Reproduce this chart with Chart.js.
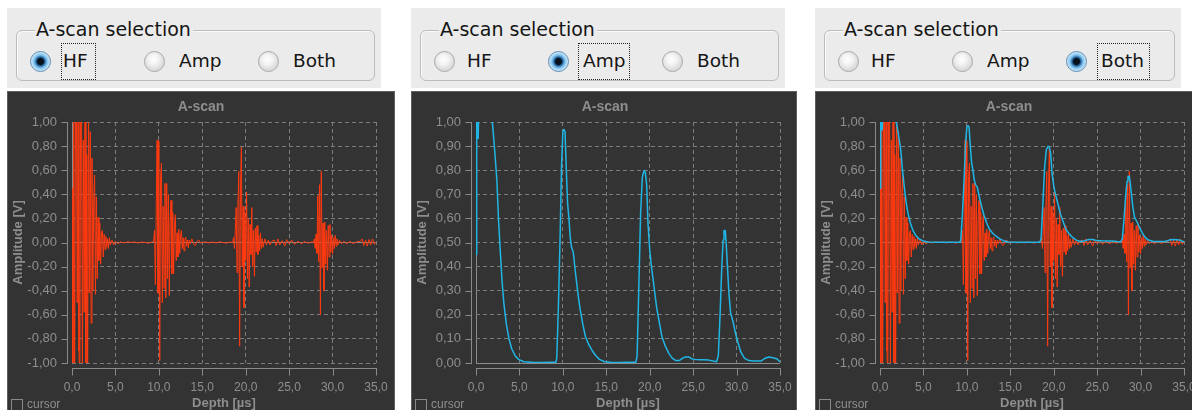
<!DOCTYPE html>
<html>
<head>
<meta charset="utf-8">
<script src="https://cdn.jsdelivr.net/npm/chart.js@4.4.1/dist/chart.umd.min.js"></script>
<style>
    html, body { margin: 0; padding: 0; background: #fff; width: 1192px; height: 410px; overflow: hidden; }
    body { position: relative; font-family: "DejaVu Sans", sans-serif; color: #151515; }
    .sel { position: absolute; top: 8px; width: 374px; height: 80px; background: #ebebeb; }
    .grp { position: absolute; left: 9px; top: 22px; width: 357px; height: 49px; border: 1px solid #bcbcbc; border-radius: 6px; box-shadow: inset 1px 1px 0 #fafafa; }
    .lgd { position: absolute; left: 28px; top: 10px; padding: 0 2px 0 1px; font-size: 19px; line-height: 22px; background: #ebebeb; white-space: nowrap; }
    .rb { position: absolute; top: 43px; width: 19px; height: 19px; border-radius: 50%; border: 1px solid #a8a8a8;
          background: radial-gradient(circle at 45% 40%, #ffffff 0, #f3f3f3 5px, #dcdcdc 10px); }
    .rb.on { border-color: #5f8bb0;
          background: radial-gradient(circle at 50% 50%, #07111c 0, #07111c 3px, #2a6ea8 4.5px, #7fc2ee 6.5px, #cfeafb 9.5px); }
    .lb { position: absolute; top: 42px; font-size: 18.5px; line-height: 22px; white-space: nowrap; }
    .focus { position: absolute; top: 35px; height: 35px; border: 1px dotted #222; }
    .scope { position: absolute; top: 91px; height: 320px; background: #333333; border: 1px solid #5e5e5e; box-sizing: border-box; overflow: hidden; }
    .scope canvas { position: absolute; left: -1px; top: -1px; }
    .cb { position: absolute; left: 3px; top: 307px; width: 10px; height: 10px; border: 1px solid #8a8a8a; }
    .cbl { position: absolute; left: 19px; top: 305px; font: 12px/14px "Liberation Sans", Arial, sans-serif; color: #8e8e8e; }
</style>
</head>
<body>

<div class="sel" style="left:7px">
    <div class="grp"></div>
    <div class="lgd">A-scan selection</div>
    <div class="rb on" style="left:23px"></div><div class="lb" style="left:56px">HF</div>
    <div class="focus" style="left:54px;width:33px"></div>
    <div class="rb" style="left:137px"></div><div class="lb" style="left:172px">Amp</div>
    <div class="rb" style="left:251px"></div><div class="lb" style="left:286px">Both</div>
</div>
<div class="sel" style="left:411px">
    <div class="grp"></div>
    <div class="lgd">A-scan selection</div>
    <div class="rb" style="left:23px"></div><div class="lb" style="left:56px">HF</div>
    <div class="rb on" style="left:137px"></div><div class="lb" style="left:172px">Amp</div>
    <div class="focus" style="left:167px;width:50px"></div>
    <div class="rb" style="left:251px"></div><div class="lb" style="left:286px">Both</div>
</div>
<div class="sel" style="left:815px;width:366px">
    <div class="grp" style="width:349px"></div>
    <div class="lgd">A-scan selection</div>
    <div class="rb" style="left:23px"></div><div class="lb" style="left:56px">HF</div>
    <div class="rb" style="left:137px"></div><div class="lb" style="left:172px">Amp</div>
    <div class="rb on" style="left:251px"></div><div class="lb" style="left:286px">Both</div>
    <div class="focus" style="left:282px;width:51px"></div>
</div>

<div class="scope" style="left:7px;width:388px">
    <canvas id="scope-hf" width="388" height="319"></canvas>
    <div class="cb"></div><div class="cbl">cursor</div>
</div>
<div class="scope" style="left:411px;width:386px">
    <canvas id="scope-amp" width="388" height="319"></canvas>
    <div class="cb"></div><div class="cbl">cursor</div>
</div>
<div class="scope" style="left:815px;width:380px">
    <canvas id="scope-both" width="388" height="319"></canvas>
    <div class="cb"></div><div class="cbl">cursor</div>
</div>

<script>
// Tick values
const depthTicks = [0, 5, 10, 15, 20, 25, 30, 35];
const hfVoltTicks = [-1, -0.8, -0.6, -0.4, -0.2, 0, 0.2, 0.4, 0.6, 0.8, 1];
const ampVoltTicks = [0, 0.1, 0.2, 0.3, 0.4, 0.5, 0.6, 0.7, 0.8, 0.9, 1];

// HF trace [depth µs, amplitude V]
const hfFront = [
    [0.0, 0.45], [0.1, -1.3], [0.2, 1.3], [0.3, -1.3], [0.4, 1.2], [0.5, 1.3], [0.6, -0.5], [0.7, 1.2],
    [0.8, -0.9], [0.9, -1.2], [1.0, 1.3], [1.1, 1.2], [1.2, -1.2], [1.3, 0.85], [1.4, -0.58], [1.5, 1.2],
    [1.6, -1.2], [1.7, 0.73], [1.8, -1.2], [1.9, 1.1], [2.0, -0.42], [2.1, 0.92], [2.2, -0.67], [2.3, 0.7],
    [2.4, -0.4], [2.5, 0.35], [2.6, 0.56], [2.7, -0.43], [2.8, 0.38], [2.9, -0.3], [3.0, 0.21], [3.1, -0.15],
    [3.2, 0.16], [3.3, -0.18], [3.4, 0.08], [3.5, 0.1], [3.6, -0.12], [3.7, 0.07], [3.8, -0.06], [3.9, 0.05],
    [4.0, -0.04], [4.1, 0.03], [4.2, -0.05], [4.3, 0.04], [4.4, -0.02], [4.6, 0.02], [4.8, -0.02], [5.0, 0.01],
    [5.3, -0.01],
];
const hfQuiet1 = [
    [5.6, 0.005], [6.0, -0.004], [6.4, 0.006], [6.8, 0], [7.2, 0.005], [7.6, -0.004], [8.0, 0.004],
    [8.4, 0], [8.8, -0.005], [9.2, 0.004],
];
const hfEcho1 = [
    [9.4, 0.01], [9.5, 0.1], [9.6, -0.35], [9.7, 0.3], [9.8, 0.85], [9.9, -0.42], [10.0, 0.84], [10.1, -0.98],
    [10.2, 0.55], [10.3, 0.66], [10.4, -0.5], [10.5, 0.3], [10.6, -0.38], [10.7, 0.49], [10.8, -0.46], [10.9, 0.49],
    [11.0, -0.3], [11.1, 0.4], [11.2, -0.44], [11.3, 0.2], [11.4, 0.35], [11.5, -0.26], [11.6, 0.25], [11.7, -0.26],
    [11.8, 0.15], [11.9, 0.23], [12.0, -0.15], [12.1, 0.08], [12.2, -0.12], [12.3, 0.11], [12.4, -0.09], [12.5, 0.06],
    [12.6, 0.1], [12.7, -0.05], [12.8, 0.04], [12.9, -0.07], [13.0, 0.03], [13.1, 0.045], [13.2, -0.03], [13.3, 0.02],
    [13.4, -0.045], [13.5, 0.02], [13.6, -0.01], [13.8, 0.03], [14.0, -0.015], [14.2, -0.025], [14.4, 0.01],
    [14.6, 0.02], [14.8, -0.005], [15.0, 0],
];
const hfQuiet2 = [
    [15.4, 0.005], [15.8, -0.004], [16.2, 0.004], [16.6, -0.004], [17.0, 0.005], [17.4, 0], [17.8, -0.005], [18.2, 0.004],
];
const hfEcho2 = [
    [18.5, 0], [18.6, 0.04], [18.7, -0.05], [18.8, 0.1], [18.9, 0.29], [19.0, -0.25], [19.1, 0.3], [19.2, 0.59],
    [19.3, -0.86], [19.4, 0.45], [19.5, 0.79], [19.6, -0.2], [19.7, 0.3], [19.8, -0.54], [19.9, 0.25], [20.0, -0.15],
    [20.1, 0.42], [20.2, -0.3], [20.3, 0.2], [20.4, -0.37], [20.5, 0.15], [20.6, -0.1], [20.7, 0.29], [20.8, -0.2],
    [20.9, 0.1], [21.0, -0.28], [21.1, 0.12], [21.2, -0.08], [21.3, 0.14], [21.4, -0.1], [21.5, 0.06], [21.6, -0.07],
    [21.7, 0.08], [21.8, -0.05], [21.9, 0.03], [22.0, -0.04], [22.2, 0.03], [22.4, -0.02], [22.6, 0.02], [22.8, -0.02],
    [23.0, 0.01],
];
const hfQuiet3 = [
    [23.3, 0.02], [23.5, -0.025], [23.7, 0.03], [23.9, -0.02], [24.2, 0.015], [24.5, -0.03], [24.7, 0.025],
    [25.0, -0.01], [25.3, 0.02], [25.6, -0.015], [26.0, 0.01], [26.4, -0.01], [26.8, 0.008], [27.2, -0.006], [27.6, 0.005],
];
const hfEcho3 = [
    [27.8, 0], [27.9, 0.03], [28.0, -0.05], [28.1, 0.07], [28.2, -0.09], [28.3, 0.39], [28.4, -0.16], [28.5, 0.48],
    [28.6, -0.6], [28.7, 0.59], [28.8, -0.21], [28.9, 0.16], [29.0, -0.4], [29.1, 0.17], [29.2, -0.18], [29.3, 0.1],
    [29.4, -0.23], [29.5, 0.14], [29.6, -0.12], [29.7, 0.15], [29.8, -0.08], [29.9, 0.06], [30.0, -0.095], [30.1, 0.04],
    [30.2, -0.05], [30.3, 0.06], [30.4, -0.03], [30.5, 0.03], [30.6, -0.02], [30.8, 0.02], [31.0, -0.01],
];
const hfQuiet4 = [
    [31.3, 0.01], [31.6, -0.01], [32.0, 0.008], [32.4, -0.008], [32.8, 0.006], [33.2, 0.01], [33.4, 0.03],
    [33.6, -0.025], [33.8, 0.02], [34.0, -0.03], [34.2, 0.025], [34.4, -0.02], [34.6, 0.03], [34.8, -0.015], [35.0, 0.005],
];

// Amplitude (envelope) trace [depth µs, amplitude V]
const ampTrace = [
    [0.0, 0.45], [0.08, 1.02], [0.25, 0.93], [0.4, 1.2], [1.0, 1.5], [1.6, 1.2], [1.88, 1.0], [2.0, 0.95],
    [2.2, 0.86], [2.4, 0.76], [2.6, 0.59], [2.8, 0.46], [3.0, 0.34], [3.2, 0.25], [3.5, 0.16], [3.8, 0.1],
    [4.1, 0.06], [4.5, 0.03], [4.9, 0.015], [5.5, 0.005], [6.5, 0.003], [7.5, 0.002], [8.5, 0.003], [9.2, 0.003],
    [9.3, 0.02], [9.5, 0.25], [9.7, 0.55], [9.85, 0.82], [10.0, 0.96], [10.1, 0.97], [10.25, 0.96], [10.4, 0.8],
    [10.55, 0.66], [10.7, 0.6], [10.85, 0.52], [11.0, 0.48], [11.2, 0.46], [11.4, 0.39], [11.6, 0.33], [11.8, 0.27],
    [12.0, 0.22], [12.3, 0.16], [12.6, 0.11], [13.0, 0.075], [13.4, 0.05], [13.8, 0.03], [14.2, 0.015], [14.8, 0.005],
    [15.5, 0.003], [16.5, 0.002], [17.5, 0.003], [18.4, 0.003], [18.55, 0.03], [18.75, 0.32], [18.95, 0.62],
    [19.15, 0.77], [19.35, 0.8], [19.5, 0.79], [19.65, 0.74], [19.8, 0.58], [20.0, 0.47], [20.2, 0.4], [20.45, 0.33],
    [20.8, 0.23], [21.1, 0.17], [21.4, 0.11], [21.8, 0.07], [22.2, 0.04], [22.6, 0.02], [23.0, 0.01], [23.4, 0.01],
    [23.8, 0.02], [24.1, 0.025], [24.5, 0.025], [24.8, 0.018], [25.2, 0.015], [25.6, 0.014], [26.2, 0.013],
    [26.8, 0.012], [27.3, 0.008], [27.7, 0.005], [27.9, 0.03], [28.1, 0.2], [28.3, 0.4], [28.45, 0.51], [28.55, 0.55],
    [28.7, 0.55], [28.8, 0.5], [28.95, 0.4], [29.1, 0.3], [29.3, 0.21], [29.6, 0.17], [29.9, 0.12], [30.2, 0.08],
    [30.5, 0.045], [30.9, 0.02], [31.4, 0.01], [32.0, 0.008], [32.8, 0.008], [33.3, 0.02], [33.7, 0.025],
    [34.2, 0.022], [34.6, 0.018], [35.0, 0.005],
];

const hfTrace = [].concat(hfFront, hfQuiet1, hfEcho1, hfQuiet2, hfEcho2, hfQuiet3, hfEcho3, hfQuiet4);

const FONT = "'Liberation Sans', Arial, sans-serif";
const TEXT_GRAY = '#8e8e8e';
const AXIS_GRAY = '#8a8a8a';
const HF_RED = '#ff3a10';
const AMP_CYAN = '#1fb6e6';

// Axis lines sit a few pixels outside the plot area, with their own tick marks
const axisLines = {
    id: 'axisLines',
    afterDraw(chart) {
        const { ctx, chartArea: a, scales: { x, y } } = chart;
        ctx.save();
        ctx.strokeStyle = AXIS_GRAY;
        ctx.lineWidth = 1;
        ctx.beginPath();
        const ax = Math.round(a.left) - 5 + 0.5;
        ctx.moveTo(ax, a.top);
        ctx.lineTo(ax, a.bottom + 1);
        y.ticks.forEach(t => {
            const py = Math.round(y.getPixelForValue(t.value)) + 0.5;
            ctx.moveTo(ax - 6, py);
            ctx.lineTo(ax, py);
        });
        const ay = Math.round(a.bottom) + 5 + 0.5;
        ctx.moveTo(a.left, ay);
        ctx.lineTo(a.right + 1, ay);
        x.ticks.forEach(t => {
            const px = Math.round(x.getPixelForValue(t.value)) + 0.5;
            ctx.moveTo(px, ay);
            ctx.lineTo(px, ay + 7);
        });
        ctx.stroke();
        ctx.restore();
    },
};

const isZero = c => c.tick && Math.abs(c.tick.value) < 1e-9;

function trace(data, color, width, order) {
    return {
        data,
        borderColor: color,
        borderWidth: width,
        borderJoinStyle: 'bevel',
        pointRadius: 0,
        tension: 0,
        fill: false,
        order,
    };
}

function makeScope(canvasId, datasets, yTicks, yMin) {
    const ctx = document.getElementById(canvasId).getContext('2d');
    return new Chart(ctx, {
        type: 'line',
        data: { datasets },
        options: {
            responsive: false,
            animation: false,
            events: [],
            layout: { padding: 0 },
            plugins: {
                legend: { display: false },
                tooltip: { enabled: false },
                title: {
                    display: true,
                    text: 'A-scan',
                    color: TEXT_GRAY,
                    font: { family: FONT, size: 14, weight: 'bold', lineHeight: 1 },
                    padding: { top: 9, bottom: 8 },
                },
            },
            scales: {
                x: {
                    type: 'linear',
                    min: 0,
                    max: 35,
                    afterBuildTicks: s => { s.ticks = depthTicks.map(v => ({ value: v })); },
                    afterFit: s => { s.height = 47; s.paddingLeft = 0; s.paddingRight = 0; },
                    grid: { color: c => (isZero(c) ? '#8c8c8c' : '#7c7c7c'), drawTicks: false },
                    border: { display: false, dash: c => (isZero(c) ? [] : [4, 3]) },
                    ticks: {
                        color: TEXT_GRAY,
                        font: { family: FONT, size: 12 },
                        padding: 17,
                        maxRotation: 0,
                        autoSkip: false,
                        callback: v => v.toFixed(1).replace('.', ','),
                    },
                    title: {
                        display: true,
                        text: 'Depth [µs]',
                        color: TEXT_GRAY,
                        font: { family: FONT, size: 13, weight: 'bold', lineHeight: 1 },
                        padding: { top: 0, bottom: 0 },
                    },
                },
                y: {
                    type: 'linear',
                    min: yMin,
                    max: 1,
                    afterBuildTicks: s => { s.ticks = yTicks.map(v => ({ value: v })); },
                    afterFit: s => { s.width = 65; s.paddingTop = 0; s.paddingBottom = 0; },
                    grid: { color: c => (isZero(c) ? '#8c8c8c' : '#7c7c7c'), drawTicks: false },
                    border: { display: false, dash: c => (isZero(c) ? [] : [4, 3]) },
                    ticks: {
                        color: TEXT_GRAY,
                        font: { family: FONT, size: 13 },
                        padding: 15,
                        autoSkip: false,
                        callback: v => v.toFixed(2).replace('.', ','),
                    },
                    title: {
                        display: true,
                        text: 'Amplitude [V]',
                        color: TEXT_GRAY,
                        font: { family: FONT, size: 13, weight: 'bold', lineHeight: 1 },
                        padding: { top: 4.5, bottom: 0 },
                    },
                },
                // empty right margin so the title centres on the whole panel
                yR: {
                    type: 'linear',
                    position: 'right',
                    afterFit: s => { s.width = 19; s.paddingTop = 0; s.paddingBottom = 0; },
                    grid: { display: false },
                    border: { display: false },
                    ticks: { display: false },
                },
            },
        },
        plugins: [axisLines],
    });
}

makeScope('scope-hf', [trace(hfTrace, HF_RED, 1, 1)], hfVoltTicks, -1);
makeScope('scope-amp', [trace(ampTrace, AMP_CYAN, 1.5, 1)], ampVoltTicks, 0);
makeScope('scope-both', [trace(ampTrace, AMP_CYAN, 1.5, 1), trace(hfTrace, HF_RED, 1, 2)], hfVoltTicks, -1);
</script>
</body>
</html>
